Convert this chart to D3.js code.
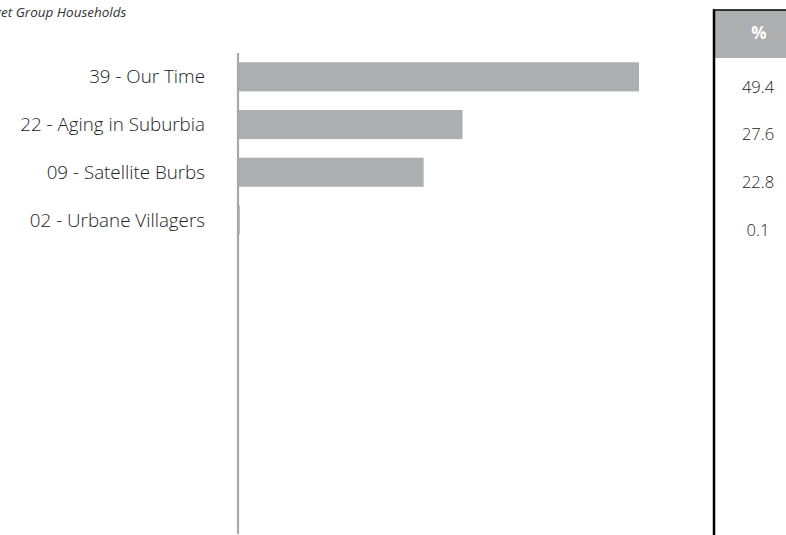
<!DOCTYPE html>
<html>
<head>
<meta charset="utf-8">
<script src="https://cdn.jsdelivr.net/npm/d3@7"></script>
<style>
  body { margin: 0; background: #fff; }
  svg { display: block; }
</style>
</head>
<body>
<div class="chart"></div>
<script>
// chart data
var categories = ["39 - Our Time", "22 - Aging in Suburbia", "09 - Satellite Burbs", "02 - Urbane Villagers"];
var percents = [49.4, 27.6, 22.8, 0.1];
var percentLabels = ["49.4", "27.6", "22.8", "0.1"];
var titleText = "Target Group Households";
var tableHeader = "%";

var width = 786, height = 535;
var fontFamily = "'Open Sans', 'Liberation Sans', sans-serif";

var svg = d3.select('.chart').append('svg')
    .attr('width', width)
    .attr('height', height);

// title, cut at the left edge like the original
var title = svg.append('text')
    .attr('y', 17)
    .attr('font-family', fontFamily)
    .attr('font-style', 'italic')
    .attr('font-size', 13.5)
    .attr('fill', '#333')
    .text(titleText);
var hidden = title.node().getSubStringLength(0, 4);
title.attr('x', 1 - hidden);

var x = d3.scaleLinear()
    .domain([0, 49.4])
    .range([239, 639]);

var y = d3.scaleBand()
    .domain(categories)
    .range([53, 53 + 47.7 * categories.length])
    .paddingInner(0.39)
    .paddingOuter(0.195);

// bars
svg.append('g')
    .selectAll('rect')
    .data(categories)
    .enter().append('rect')
    .attr('x', x(0))
    .attr('y', d => y(d))
    .attr('width', (d, i) => x(percents[i]) - x(0))
    .attr('height', y.bandwidth())
    .attr('fill', '#adaeb0');

// category labels
svg.append('g')
    .selectAll('text')
    .data(categories)
    .enter().append('text')
    .attr('x', 205)
    .attr('y', d => y(d) + y.bandwidth() / 2)
    .attr('dy', '0.35em')
    .attr('text-anchor', 'end')
    .attr('font-family', fontFamily)
    .attr('font-weight', 300)
    .attr('font-size', 18.8)
    .attr('fill', '#222')
    .text(d => d);

// vertical axis line
svg.append('line')
    .attr('x1', x(0) - 1).attr('x2', x(0) - 1)
    .attr('y1', 53).attr('y2', 534)
    .attr('stroke', '#a8a8a8')
    .attr('stroke-width', 2.2);

// side table
var tableX = 714;
svg.append('rect')
    .attr('x', tableX)
    .attr('y', 10)
    .attr('width', width - tableX)
    .attr('height', 48)
    .attr('fill', '#adaeb0');

svg.append('line')
    .attr('x1', tableX - 1).attr('x2', width)
    .attr('y1', 10).attr('y2', 10)
    .attr('stroke', '#000')
    .attr('stroke-width', 1.5);

svg.append('line')
    .attr('x1', tableX).attr('x2', tableX)
    .attr('y1', 9.5).attr('y2', height)
    .attr('stroke', '#000')
    .attr('stroke-width', 2.5);

svg.append('text')
    .attr('x', 759)
    .attr('y', 33)
    .attr('dy', '0.35em')
    .attr('text-anchor', 'middle')
    .attr('font-family', fontFamily)
    .attr('font-weight', 'bold')
    .attr('font-size', 17)
    .attr('fill', '#fff')
    .text(tableHeader);

svg.append('g')
    .selectAll('text')
    .data(percentLabels)
    .enter().append('text')
    .attr('x', 758)
    .attr('y', (d, i) => y(categories[i]) + y.bandwidth() / 2 + 10)
    .attr('dy', '0.35em')
    .attr('text-anchor', 'middle')
    .attr('font-family', fontFamily)
    .attr('font-weight', 300)
    .attr('font-size', 16.5)
    .attr('fill', '#222')
    .text(d => d);
</script>
</body>
</html>
